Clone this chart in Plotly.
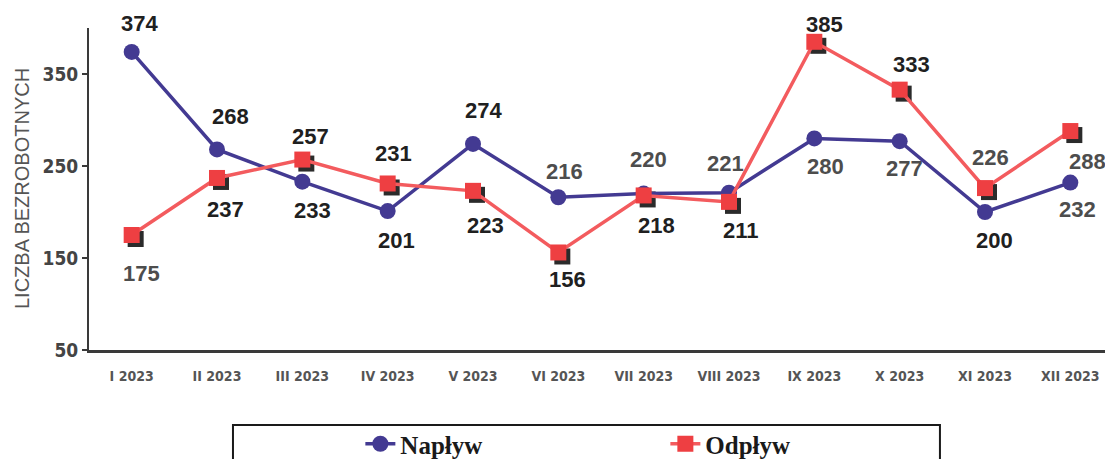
import plotly.graph_objects as go

months = ['I 2023', 'II 2023', 'III 2023', 'IV 2023', 'V 2023', 'VI 2023',
          'VII 2023', 'VIII 2023', 'IX 2023', 'X 2023', 'XI 2023', 'XII 2023']
naplyw = [374, 268, 233, 201, 274, 216, 220, 221, 280, 277, 200, 232]
odplyw = [175, 237, 257, 231, 223, 156, 218, 211, 385, 333, 226, 288]
y_ticks = [50, 150, 250, 350]

# label offsets in px (dx, dy), dy > 0 means below the point
naplyw_off = [(8, -28), (13, -33), (10, 29), (9, 29), (10, -33), (6, -26),
              (5, -34), (-4, -29), (11, 28), (5, 27), (9, 28), (7, 27)]
odplyw_off = [(10, 38), (8, 32), (8, -23), (6, -30), (12, 35), (9, 27),
              (13, 30), (12, 29), (10, -17), (12, -25), (5, -31), (17, 30)]
# some labels come out lighter in the original print
naplyw_grey = [False, False, False, False, False, True,
               True, True, True, True, False, True]
odplyw_grey = [True, False, False, False, False, False,
               False, False, False, False, True, True]

BLUE = '#433a92'
RED_LINE = '#f35b5e'
RED = '#ee3f42'
narrow = 'Liberation Sans Narrow, DejaVu Sans Condensed, Arial Narrow, sans-serif'

# the page body has an 8px margin, so the figure is made 8px smaller
W, H = 1105, 451
Y_RANGE = [50, 400]
PX_PER_UNIT = 322 / 350
PX_PER_CAT = 1024 / 12
shadow_dx, shadow_dy = 4, 4

fig = go.Figure()

# shadow of the square markers, drawn on a slightly shifted copy of the axes
fig.add_trace(go.Scatter(
    x=months, y=odplyw, mode='markers', xaxis='x', yaxis='y',
    marker=dict(symbol='square', size=16, color='#2b2b2b'),
    showlegend=False, hoverinfo='skip'))

fig.add_trace(go.Scatter(
    x=months, y=naplyw, name='Napływ', mode='lines+markers',
    xaxis='x2', yaxis='y2',
    line=dict(color=BLUE, width=3.5),
    marker=dict(symbol='circle', size=16, color=BLUE)))

fig.add_trace(go.Scatter(
    x=months, y=odplyw, name='Odpływ', mode='lines+markers',
    xaxis='x2', yaxis='y2',
    line=dict(color=RED_LINE, width=3.5),
    marker=dict(symbol='square', size=16, color=RED)))

annotations = []
for vals, offs, greys in ((naplyw, naplyw_off, naplyw_grey),
                          (odplyw, odplyw_off, odplyw_grey)):
    for m, v, (dx, dy), g in zip(months, vals, offs, greys):
        annotations.append(dict(
            x=m, y=v, xref='x2', yref='y2', text=str(v), showarrow=False,
            xshift=dx, yshift=-dy,
            font=dict(family='Liberation Sans, Arial, sans-serif', size=22,
                      color='#4d4d4d' if g else '#202020', weight='bold')))

annotations.append(dict(
    x=-0.0654, y=0.5, xref='paper', yref='paper', text='LICZBA BEZROBOTNYCH',
    textangle=-90, showarrow=False, xanchor='center', yanchor='middle',
    font=dict(family='Liberation Sans, Arial, sans-serif', size=20, color='#555555')))

fig.update_layout(
    width=W, height=H,
    margin=dict(l=81, r=0, t=20, b=109),
    paper_bgcolor='white', plot_bgcolor='white',
    xaxis=dict(type='category', categoryorder='array', categoryarray=months,
               range=[-0.5 - shadow_dx / PX_PER_CAT, 11.5 - shadow_dx / PX_PER_CAT],
               visible=False, fixedrange=True),
    yaxis=dict(range=[Y_RANGE[0] + shadow_dy / PX_PER_UNIT, Y_RANGE[1] + shadow_dy / PX_PER_UNIT],
               visible=False, fixedrange=True),
    xaxis2=dict(type='category', categoryorder='array', categoryarray=months,
                overlaying='x', side='bottom', range=[-0.5, 11.5],
                showline=True, linecolor='#3a3a3a', linewidth=3,
                showgrid=False, ticks='', ticklabelstandoff=11,
                tickfont=dict(family=narrow, size=14, color='#555555', weight='bold')),
    yaxis2=dict(overlaying='y', side='left', range=Y_RANGE,
                tickvals=y_ticks, showline=True, linecolor='#3a3a3a', linewidth=2,
                showgrid=False, zeroline=False, ticks='outside', ticklen=5,
                tickcolor='#3a3a3a', tickwidth=2,
                tickfont=dict(family=narrow, size=19, color='#444444', weight='bold')),
    annotations=annotations,
    showlegend=True,
    legend=dict(orientation='h', x=0.265, xanchor='left',
                yref='container', y=1 - 436 / H, yanchor='middle',
                entrywidth=260, entrywidthmode='pixels', bgcolor='rgba(0,0,0,0)',
                font=dict(family='Liberation Serif, Times New Roman, serif', size=25,
                          color='#1a1a1a', weight='bold')),
    shapes=[dict(type='rect', xref='paper', yref='paper',
                 x0=0.1406, x1=0.831, y0=-0.373, y1=-0.233,
                 line=dict(color='#1a1a1a', width=2))],
)

fig.write_html('out.html')
